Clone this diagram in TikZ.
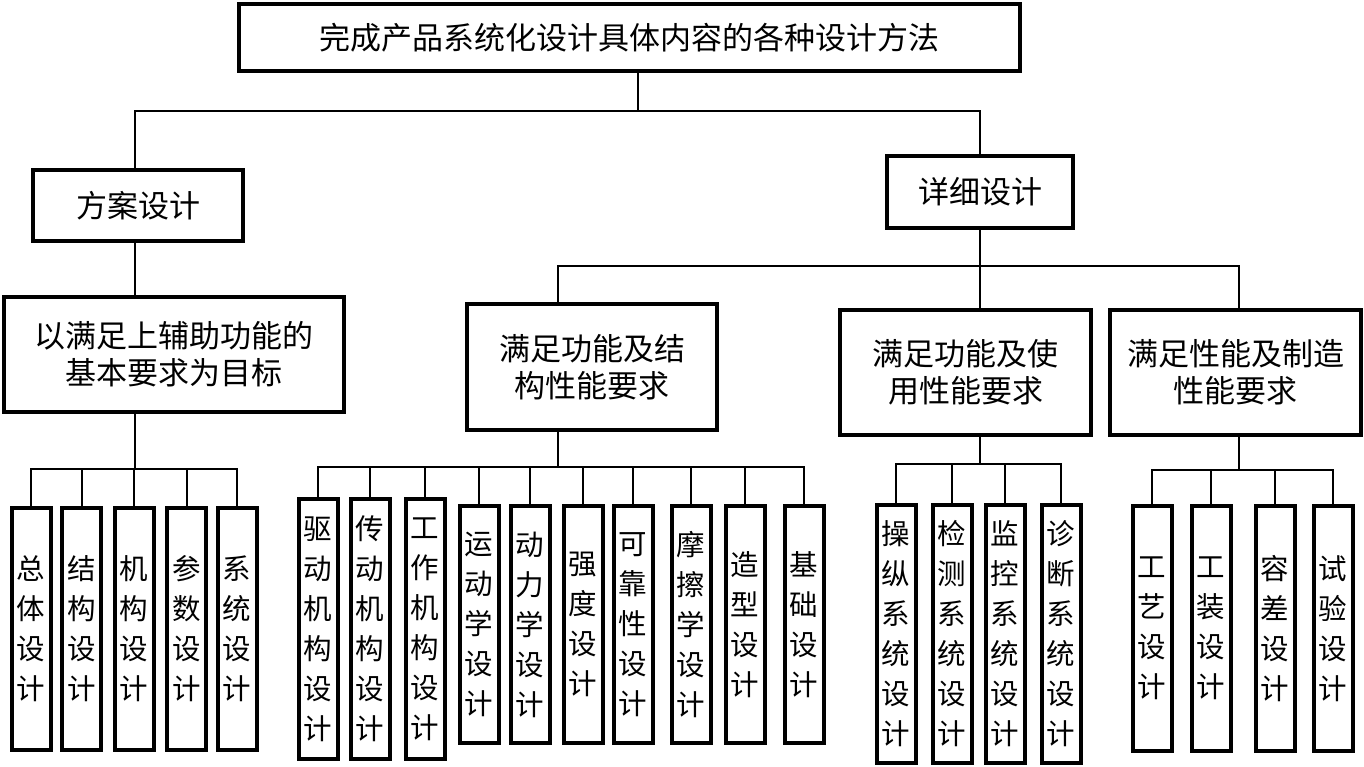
\documentclass[tikz,border=0pt]{standalone}
\usepackage{fontspec}
\setmainfont{Noto Sans CJK SC}
\begin{document}
\begin{tikzpicture}
  [x=1pt,y=-1pt,
   box/.style={draw,line width=4pt,align=center,inner sep=0pt,font=\fontsize{31}{37}\selectfont},
   leaf/.style={draw,line width=4pt,align=center,inner sep=0pt,minimum width=39pt,font=\fontsize{28.5}{40}\selectfont},
   conn/.style={line width=2pt}]
  \useasboundingbox (0,0) rectangle (1364,767);

  \node[box,minimum width=781pt,minimum height=67pt] (top) at (629.5,37.5) {完成产品系统化设计具体内容的各种设计方法};
  \node[box,minimum width=210pt,minimum height=71pt] (fa) at (138,205.5) {方案设计};
  \node[box,minimum width=186pt,minimum height=72pt] (xx) at (980,192) {详细设计};
  \node[box,minimum width=340pt,minimum height=115pt] (g1) at (174,354.5) {以满足上辅助功能的\\基本要求为目标};
  \node[box,minimum width=250pt,minimum height=126pt] (g2) at (592,367) {满足功能及结\\构性能要求};
  \node[box,minimum width=251pt,minimum height=125pt] (g3) at (965.5,372.5) {满足功能及使\\用性能要求};
  \node[box,minimum width=251pt,minimum height=125pt] (g4) at (1235.5,372.5) {满足性能及制造\\性能要求};

  % junctions
  \coordinate (j0) at (638,111);
  \coordinate (b0) at (980,266);
  \coordinate (b1) at (135,469);
  \coordinate (b2) at (558,467);
  \coordinate (b3) at (980,464);
  \coordinate (b4) at (1239,470);

  % leaves
  \foreach \n/\x/\t in {a1/31/{总\\体\\设\\计},a2/81.5/{结\\构\\设\\计},a3/134/{机\\构\\设\\计},
                        a4/186.5/{参\\数\\设\\计},a5/237/{系\\统\\设\\计}}
    \node[leaf,minimum height=242pt] (\n) at (\x,629) {\t};
  \foreach \n/\x/\t in {c1/318/{驱\\动\\机\\构\\设\\计},c2/370/{传\\动\\机\\构\\设\\计},c3/425/{工\\作\\机\\构\\设\\计}}
    \node[leaf,minimum height=260pt] (\n) at (\x,629) {\t};
  \foreach \n/\x/\t in {c4/479/{运\\动\\学\\设\\计},c5/530/{动\\力\\学\\设\\计},c6/583/{强\\度\\设\\计},
                        c7/633/{可\\靠\\性\\设\\计},c8/691/{摩\\擦\\学\\设\\计},c9/745/{造\\型\\设\\计},c10/804/{基\\础\\设\\计}}
    \node[leaf,minimum height=237pt] (\n) at (\x,624.5) {\t};
  \foreach \n/\x/\t in {d1/896/{操\\纵\\系\\统\\设\\计},d2/952/{检\\测\\系\\统\\设\\计},
                        d3/1005/{监\\控\\系\\统\\设\\计},d4/1061/{诊\\断\\系\\统\\设\\计}}
    \node[leaf,minimum height=258pt] (\n) at (\x,634) {\t};
  \foreach \n/\x/\t in {e1/1152/{工\\艺\\设\\计},e2/1211/{工\\装\\设\\计},e3/1275/{容\\差\\设\\计},e4/1333/{试\\验\\设\\计}}
    \node[leaf,minimum height=245pt] (\n) at (\x,628.5) {\t};

  % connectors
  \draw[conn] (top.south -| j0) -- (j0);
  \draw[conn] (j0) -| (fa.north -| b1);
  \draw[conn] (j0) -| (xx.north);
  \draw[conn] (fa.south -| b1) -- (g1.north -| b1);
  \draw[conn] (xx.south) -- (b0);
  \foreach \g/\b in {g2/b2,g3/b3,g4/b4}
    \draw[conn] (b0) -| (\g.north -| \b);
  \foreach \g/\b in {g1/b1,g2/b2,g3/b3,g4/b4}
    \draw[conn] (\g.south -| \b) -- (\b);
  \foreach \n in {a1,a2,a3,a4,a5}
    \draw[conn] (b1) -| (\n.north);
  \foreach \n in {c1,c2,c3,c4,c5,c6,c7,c8,c9,c10}
    \draw[conn] (b2) -| (\n.north);
  \foreach \n in {d1,d2,d3,d4}
    \draw[conn] (b3) -| (\n.north);
  \foreach \n in {e1,e2,e3,e4}
    \draw[conn] (b4) -| (\n.north);
\end{tikzpicture}
\end{document}
